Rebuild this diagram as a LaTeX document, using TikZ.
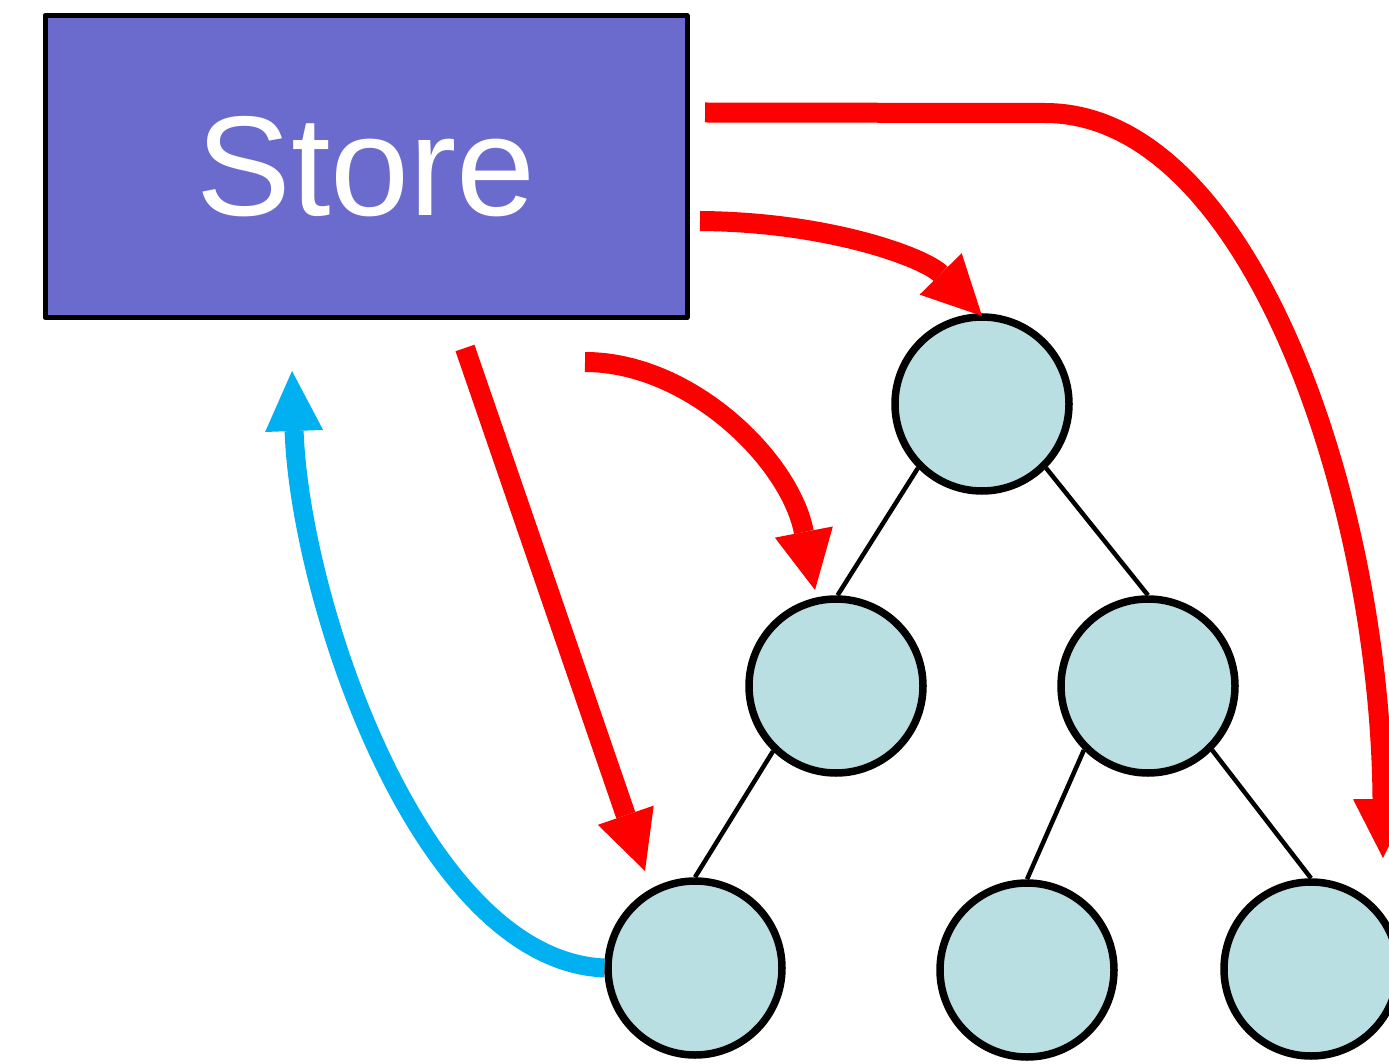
\documentclass[tikz,border=0pt]{standalone}
\usepackage{fontspec}
\setmainfont{Liberation Sans}
\usetikzlibrary{arrows.meta}
\definecolor{storefill}{HTML}{6B6BCE}
\definecolor{nodefill}{HTML}{B9DFE3}
\definecolor{redarrow}{HTML}{FF0000}
\definecolor{bluearrow}{HTML}{00B0F0}
\begin{document}
\begin{tikzpicture}[x=1pt,y=-1pt,
  storebox/.style={rectangle,draw=black,line width=5pt,line join=round,fill=storefill,
    minimum width=642pt,minimum height=302pt,inner sep=0pt,
    text=white,font=\fontsize{142}{142}\selectfont},
  treenode/.style={circle,draw=black,line width=7.5pt,fill=nodefill,
    minimum size=174pt,inner sep=0pt},
  treeedge/.style={draw=black,line width=4.5pt},
  redarr/.style={draw=redarrow,line width=20pt,
    -{Triangle[length=59pt,width=59pt,line width=0pt]}},
  bluearr/.style={draw=bluearrow,line width=19pt,
    -{Triangle[length=60pt,width=58pt,line width=0pt]}}]
\useasboundingbox (0,0) rectangle (1389,1064);
\clip (0,0) rectangle (1389,1064);

% store
\node[storebox] (store) at (366,166.5) {Store};

% tree nodes
\node[treenode] (root) at (982,404) {};
\node[treenode] (lm) at (836,686) {};
\node[treenode] (rm) at (1148,686) {};
\node[treenode] (bl) at (695,968) {};
\node[treenode] (bm) at (1027,970) {};
\node[treenode] (br) at (1311,969) {};

% tree edges
\draw[treeedge] (root.225) -- (lm.89);
\draw[treeedge] (root.315) -- (rm.90);
\draw[treeedge] (lm.226) -- (bl.90);
\draw[treeedge] (rm.225) -- (bm.90);
\draw[treeedge] (rm.315) -- (br.90);

% arrow endpoints
\coordinate (a1s) at (705,112.5);
\coordinate (a1m) at (1045,113);
\coordinate (a1e) at (1383,858);
\coordinate (a2s) at (700,221);
\coordinate (a2e) at (982,316);
\coordinate (a3s) at (585,362);
\coordinate (a3e) at (815,590);
\coordinate (a4s) at (465,348);
\coordinate (a4e) at (645,871);
\coordinate (b1e) at (292,371);

% red arrows
\draw[redarr] (a1s) -- (a1m) .. controls (1250,113) and (1380,500) .. (a1e);
\draw[redarr] (a2s) .. controls (830,222) and (925,258) .. (a2e);
\draw[redarr] (a3s) .. controls (690,362) and (790,460) .. (a3e);
\draw[redarr] (a4s) -- (a4e);

% blue arrow
\draw[bluearr] (bl.west) .. controls (420,960) and (300,600) .. (b1e);
\end{tikzpicture}
\end{document}
